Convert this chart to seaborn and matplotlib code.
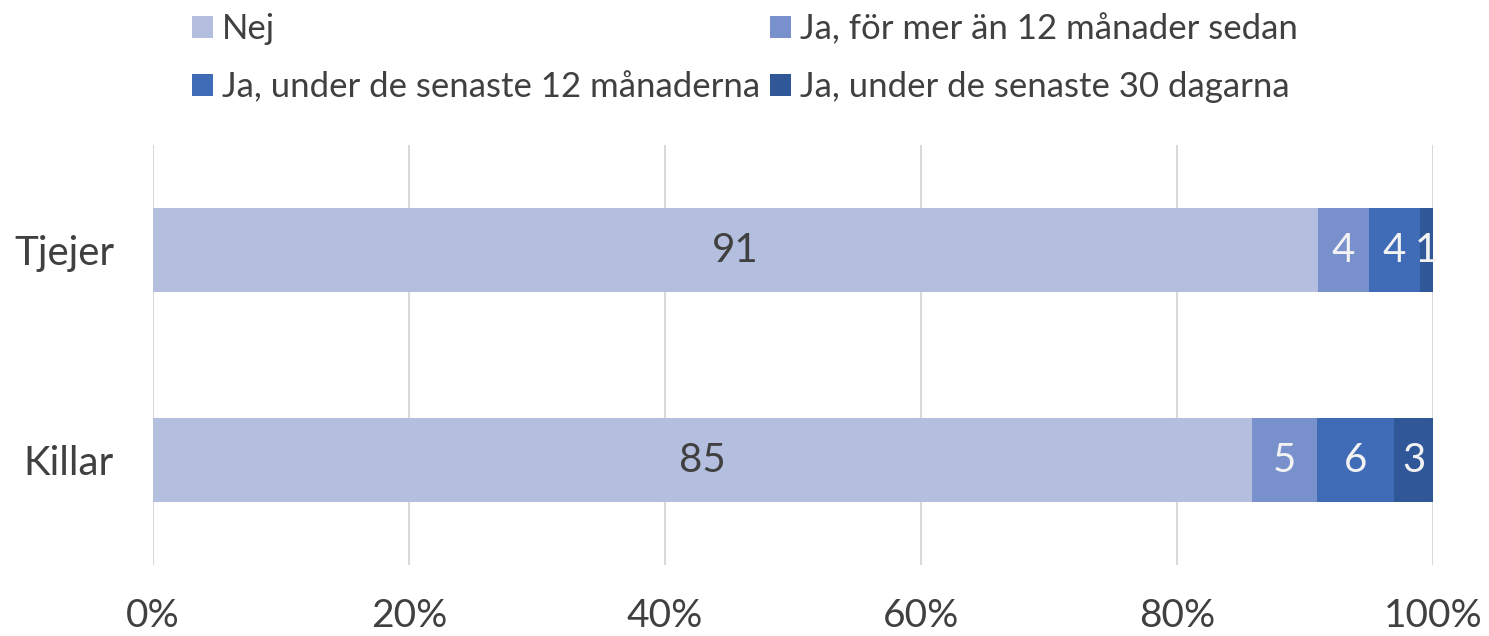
import numpy as np
import pandas as pd
import matplotlib
matplotlib.use("Agg")
import matplotlib.pyplot as plt
import seaborn as sns
from matplotlib.patches import Patch

# Data
groups = ["Tjejer", "Killar"]
categories = ["Nej", "Ja, för mer än 12 månader sedan",
              "Ja, under de senaste 12 månaderna", "Ja, under de senaste 30 dagarna"]
nej = [91, 85]
mer_an_12 = [4, 5]
senaste_12 = [4, 6]
senaste_30 = [1, 3]
colors = ["#B4BFDF", "#7890CC", "#3F6BB7", "#305899"]
label_colors = ["#404040", "#F2F2F2", "#F2F2F2", "#F2F2F2"]

sns.set_theme(style="white")
plt.rcParams["font.family"] = ["Lato", "DejaVu Sans"]
text_color = "#404040"

values = np.array([nej, mer_an_12, senaste_12, senaste_30], dtype=float)
totals = values.sum(axis=0)
shares = values / totals * 100
cum = shares.cumsum(axis=0)

fig = plt.figure(figsize=(14.89, 6.36), dpi=100)
ax = fig.add_axes([153 / 1489, 1 - 565 / 636, 1280 / 1489, 420 / 636])

# stacked bars: draw cumulative layers from the outermost inwards
for i in range(len(categories) - 1, -1, -1):
    df = pd.DataFrame({"grupp": groups, "andel": cum[i]})
    sns.barplot(data=df, x="andel", y="grupp", color=colors[i], orient="h",
                width=0.4, saturation=1, linewidth=0, ax=ax, zorder=2)

# value labels
for i in range(len(categories)):
    for j, g in enumerate(groups):
        start = cum[i - 1][j] if i > 0 else 0
        mid = start + shares[i][j] / 2
        ax.text(mid, j, f"{int(values[i][j])}", ha="center", va="center",
                fontsize=29, color=label_colors[i], zorder=3)

ax.set_xlim(0, 100)
ax.set_ylim(1.5, -0.5)
ax.set_xticks(np.arange(0, 101, 20))
ax.set_xticklabels([f"{t}%" for t in range(0, 101, 20)], fontsize=28, color=text_color)
ax.tick_params(axis="x", pad=24, length=0)
ax.tick_params(axis="y", pad=28, length=0, labelsize=29, labelcolor=text_color)
ax.set_xlabel("")
ax.set_ylabel("")
ax.xaxis.grid(True, color="#D9D9D9", linewidth=1.5, zorder=0)
ax.set_axisbelow(True)
for s in ax.spines.values():
    s.set_visible(False)

handles = [Patch(facecolor=c, edgecolor="none") for c in colors]
order = [0, 2, 1, 3]
fig.legend([handles[k] for k in order], [categories[k] for k in order],
           ncol=2, loc="upper left", bbox_to_anchor=(168 / 1489, 1.018),
           frameon=False, fontsize=25, labelcolor=text_color,
           handlelength=0.6, handleheight=0.6, handletextpad=0.25,
           columnspacing=0.3, labelspacing=0.75, borderaxespad=0.3)

fig.savefig("out.png", dpi=100, facecolor="white")
